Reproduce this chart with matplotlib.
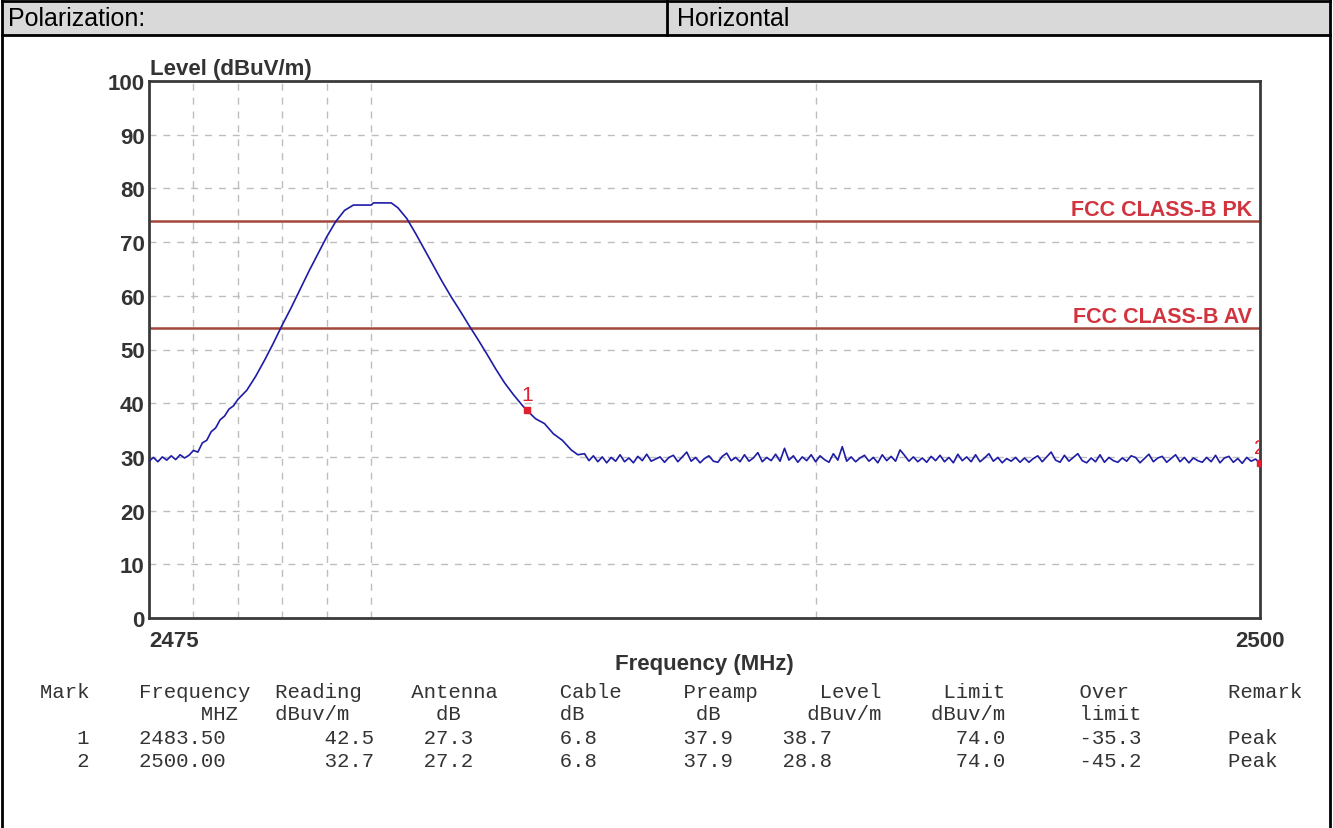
import numpy as np
import matplotlib
matplotlib.use('Agg')
import matplotlib.pyplot as plt
from matplotlib.lines import Line2D

W, H = 1333, 829

# header row
pol_label = 'Polarization:'
pol_value = 'Horizontal'

# limit lines
limit_names = ['FCC CLASS-B PK', 'FCC CLASS-B AV']
limit_levels = [74.0, 54.0]

# trace: noise at the start, then the emission skirt, then the noise floor
start_freq = [2475.0, 2475.1, 2475.2, 2475.3, 2475.4, 2475.5, 2475.6, 2475.7, 2475.8]
start_level = [29.2, 29.9, 29.1, 30.0, 29.4, 30.2, 29.5, 30.4, 29.8]

skirt_freq = [2475.9, 2476.0, 2476.1, 2476.2, 2476.3, 2476.4, 2476.5, 2476.6, 2476.7,
              2476.8, 2476.9, 2477.0, 2477.2, 2477.4, 2477.6, 2477.8, 2478.0, 2478.2,
              2478.4, 2478.6, 2478.8, 2479.0, 2479.2, 2479.4, 2479.6, 2480.0, 2480.05,
              2480.45, 2480.6, 2480.8, 2481.0, 2481.2, 2481.4, 2481.6, 2481.8, 2482.0,
              2482.2, 2482.4, 2482.6, 2482.8, 2483.0, 2483.2, 2483.4, 2483.5, 2483.7,
              2483.9, 2484.1, 2484.3, 2484.5, 2484.65]
skirt_level = [30.3, 31.2, 30.9, 32.6, 33.1, 34.7, 35.4, 36.9, 37.6,
               38.9, 39.5, 40.7, 42.4, 45.0, 48.0, 51.2, 54.6, 57.8,
               61.2, 64.6, 67.8, 71.0, 73.8, 75.9, 76.9, 76.9, 77.3,
               77.3, 76.4, 74.4, 71.6, 68.6, 65.6, 62.6, 59.8, 57.2,
               54.5, 51.9, 49.2, 46.4, 43.8, 41.6, 39.6, 38.7, 37.1,
               36.2, 34.3, 33.1, 31.3, 30.4]

floor_level = [30.6, 29.3, 30.2, 29.1, 30.0, 28.9, 29.9, 29.2, 30.4, 29.1,
               29.8, 28.9, 30.1, 29.3, 30.5, 29.2, 29.6, 30.0, 29.0, 29.9,
               30.3, 29.1, 30.0, 30.9, 29.2, 29.9, 28.9, 29.7, 30.2, 29.2,
               29.0, 30.1, 30.7, 29.3, 29.9, 29.1, 30.4, 29.2, 29.8, 30.8,
               29.1, 29.9, 29.3, 30.5, 29.2, 31.6, 29.4, 30.2, 29.0, 30.0,
               29.3, 30.4, 29.1, 30.2, 29.5, 29.0, 30.6, 29.4, 31.9, 29.2,
               30.0, 29.1, 29.8, 30.3, 29.2, 29.9, 28.9, 30.4, 29.3, 30.1,
               29.2, 31.3, 30.3, 29.2, 30.0, 29.1, 29.8, 29.0, 30.1, 29.3,
               30.3, 29.1, 29.9, 28.9, 30.5, 29.3, 30.0, 29.1, 30.4, 29.1,
               29.8, 30.6, 29.2, 29.9, 28.9, 29.7, 29.2, 29.9, 29.0, 29.8,
               29.0, 29.7, 30.2, 29.1, 30.0, 30.9, 29.4, 29.0, 30.3, 29.2,
               29.9, 30.6, 29.3, 28.9, 29.8, 29.1, 30.4, 29.0, 29.9, 29.3,
               29.0, 29.8, 29.2, 30.2, 29.9, 28.9, 29.7, 30.5, 29.1, 29.8,
               30.1, 29.0, 29.7, 30.4, 29.1, 29.9, 28.9, 29.8, 29.3, 29.0,
               29.9, 29.1, 30.3, 28.9, 29.8, 30.1, 29.0, 29.7, 28.8, 29.9,
               29.2, 29.6, 28.8]
floor_freq = np.round(np.linspace(2484.8, 2500.0, len(floor_level)), 2)

# vertical grid positions used by the receiver software
vgrid = [2476, 2477, 2478, 2479, 2480, 2490]
yticks = [0, 10, 20, 30, 40, 50, 60, 70, 80, 90, 100]

# marker table
marks = [1, 2]
mark_freq = [2483.50, 2500.00]
reading = [42.5, 32.7]
antenna = [27.3, 27.2]
cable = [6.8, 6.8]
preamp = [37.9, 37.9]
level = [38.7, 28.8]
limit = [74.0, 74.0]
over = [-35.3, -45.2]
remark = ['Peak', 'Peak']

head1 = ['Mark', 'Frequency', 'Reading', 'Antenna', 'Cable', 'Preamp', 'Level', 'Limit', 'Over', 'Remark']
head2 = ['', 'MHZ', 'dBuv/m', 'dB', 'dB', 'dB', 'dBuv/m', 'dBuv/m', 'limit', '']

freq = np.concatenate([start_freq, skirt_freq, floor_freq])
lev = np.concatenate([start_level, skirt_level, floor_level])


def fx(x):
    return x / W


def fy(y):
    return 1 - y / H


fig = plt.figure(figsize=(W / 100, H / 100), dpi=100)

# frame and header row
fig.patches.append(plt.Rectangle((fx(2), fy(36)), fx(1328), fy(2) - fy(36),
                                 transform=fig.transFigure, facecolor='#d9d9d9', edgecolor='none'))
for seg in [((2, 1330), (2, 2)), ((2, 1330), (36, 36)), ((2, 2), (2, 829)),
            ((1330, 1330), (2, 829)), ((667, 667), (2, 36))]:
    fig.lines.append(Line2D([fx(v) for v in seg[0]], [fy(v) for v in seg[1]],
                            transform=fig.transFigure, color='black', lw=2))
fig.text(fx(8), fy(19), pol_label, fontsize=18, family='Liberation Sans', va='center')
fig.text(fx(677), fy(19), pol_value, fontsize=18, family='Liberation Sans', va='center')

ax = fig.add_axes([fx(149), fy(619), (1260 - 149) / W, (619 - 82) / H])
ax.set_xlim(2475, 2500)
ax.set_ylim(0, 100)

for y in yticks[1:-1]:
    ax.axhline(y, color='#bdbdbd', lw=1, ls=(0, (5, 5)), zorder=1)
for x in vgrid:
    ax.axvline(x, color='#bdbdbd', lw=1, ls=(0, (5, 5)), zorder=1)

for name, lim in zip(limit_names, limit_levels):
    ax.axhline(lim, color='#a3463c', lw=1.8, zorder=2)
    ax.annotate(name, (2500, lim), xytext=(-8, 6), textcoords='offset pixels',
                ha='right', va='baseline', color='#d2343f', fontsize=15.5,
                fontweight='bold', family='Liberation Sans')

ax.plot(freq, lev, color='#1c1ca6', lw=1.2, zorder=3)

for m, f, l in zip(marks, mark_freq, level):
    ax.plot(f, l, 's', ms=4, color='#e02030', zorder=4, clip_on=True)
    ax.annotate(str(m), (f, l), xytext=(0, 6), textcoords='offset pixels',
                ha='center', va='bottom', color='#e02030', fontsize=15,
                family='Liberation Sans', annotation_clip=False, clip_on=True)

for s in ax.spines.values():
    s.set_color('#3a3a3a')
    s.set_linewidth(2)

ax.set_yticks(yticks)
ax.set_yticklabels([str(v) for v in yticks])
ax.set_xticks([2475, 2500])
ax.set_xticklabels(['2475', '2500'])
ax.tick_params(length=0, labelsize=16, labelcolor='#333333')
ax.tick_params(axis='y', pad=3)
ax.tick_params(axis='x', pad=9)
for t in ax.get_yticklabels() + ax.get_xticklabels():
    t.set_fontweight('bold')
    t.set_family('Liberation Sans')
ax.get_xticklabels()[0].set_ha('left')

fig.text(fx(150), fy(75), 'Level (dBuV/m)', fontsize=16, fontweight='bold',
         family='Liberation Sans', color='#333333', va='baseline')
fig.text(fx(704), fy(665), 'Frequency (MHz)', fontsize=16, fontweight='bold',
         family='Liberation Sans', color='#333333', ha='center', va='center')

# table as fixed-width text lines
c1 = [0, 8, 19, 30, 42, 52, 63, 73, 84, 96]
c2 = [0, 13, 19, 32, 42, 53, 62, 72, 84, 96]
cr = [3, 8, 23, 31, 42, 52, 60, 74, 84, 96]


def line(cols, cells):
    buf = [' '] * 110
    for col, s in zip(cols, cells):
        buf[col:col + len(s)] = list(s)
    return ''.join(buf).rstrip()


rows = [line(c1, head1), line(c2, head2)]
for i in range(len(marks)):
    cells = [str(marks[i]), f'{mark_freq[i]:.2f}', f'{reading[i]:.1f}', f'{antenna[i]:.1f}',
             f'{cable[i]:.1f}', f'{preamp[i]:.1f}', f'{level[i]:.1f}', f'{limit[i]:.1f}',
             f'{over[i]:.1f}', remark[i]]
    rows.append(line(cr, cells))

for y, txt in zip([692, 715, 739, 762], rows):
    fig.text(fx(40), fy(y), txt, family='Liberation Mono', fontsize=14.88,
             color='#333333', va='center')

fig.savefig('out.png', dpi=100)
